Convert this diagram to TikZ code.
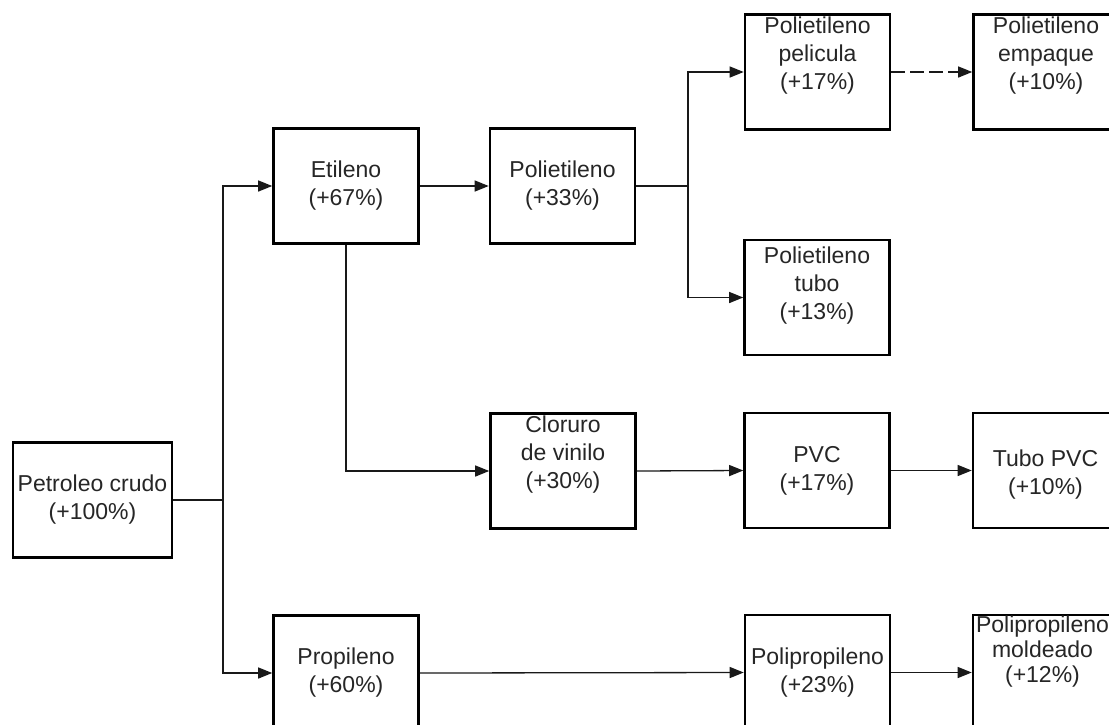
\documentclass[tikz,border=0pt]{standalone}
\usepackage{fontspec}
\setmainfont{Liberation Sans}
\usetikzlibrary{arrows.meta}

\tikzset{
  box/.style={draw=black, line width=2.6pt, fill=white, minimum width=145pt,
              minimum height=115pt, inner sep=0pt},
  txt/.style={align=center, text=black!85, inner sep=0pt,
              font=\fontsize{23}{28}\selectfont},
  wire/.style={line width=1.3pt, draw=black!90},
  arr/.style={wire, -{Triangle[length=14pt,width=11pt]}},
  dasharr/.style={arr, dash pattern=on 14pt off 5pt}
}

\begin{document}
\begin{tikzpicture}[x=1pt, y=-1pt]
  \useasboundingbox (0,0) rectangle (1109,724);
  \clip (0,0) rectangle (1109,724);
  \fill[white] (0,0) rectangle (1109,724);

  % process boxes
  \node[box, minimum width=159pt] (pet) at (92.5,500) {};
  \node[box] (eti) at (346,186) {};
  \node[box] (pol) at (562.5,186) {};
  \node[box] (pel) at (817.5,72) {};
  \node[box] (emp) at (1046,72) {};
  \node[box] (tub) at (817,297.5) {};
  \node[box] (clo) at (563,471) {};
  \node[box] (pvc) at (817,470.5) {};
  \node[box] (tpv) at (1045.5,470.5) {};
  \node[box] (pro) at (346,673) {};
  \node[box] (ppr) at (817.5,672.5) {};
  \node[box] (ppm) at (1045.5,672.5) {};

  % labels (three-line labels sit in the upper part of their box)
  \node[txt] (pet-t) at (pet.center) {Petroleo crudo\\(+100\%)};
  \node[txt] (eti-t) at (eti.center) {Etileno\\(+67\%)};
  \node[txt] (pol-t) at (pol.center) {Polietileno\\(+33\%)};
  \node[txt] (pel-t) at ([yshift=16pt]pel.center) {Polietileno\\pelicula\\(+17\%)};
  \node[txt] (emp-t) at ([yshift=16pt]emp.center) {Polietileno\\empaque\\(+10\%)};
  \node[txt] (tub-t) at ([yshift=12pt]tub.center) {Polietileno\\tubo\\(+13\%)};
  \node[txt] (clo-t) at ([yshift=16pt]clo.center) {Cloruro\\de vinilo\\(+30\%)};
  \node[txt] (pvc-t) at (pvc.center) {PVC\\(+17\%)};
  \node[txt] (tpv-t) at ([yshift=-4pt]tpv.center) {Tubo PVC\\(+10\%)};
  \node[txt] (pro-t) at (pro.center) {Propileno\\(+60\%)};
  \node[txt] (ppr-t) at (ppr.center) {Polipropileno\\(+23\%)};
  \node[txt, font=\fontsize{23}{25}\selectfont] (ppm-t)
    at ([xshift=-3pt,yshift=21pt]ppm.center) {Polipropileno\\moldeado\\(+12\%)};

  % branching points
  \coordinate (trunk) at (223,500);
  \coordinate (fork) at (688,186);

  % connectors
  \draw[wire] (pet.east) -- (trunk);
  \draw[arr] (trunk) |- (eti.west);
  \draw[arr] (trunk) |- (pro.west);
  \draw[arr] (eti.east) -- (pol.west);
  \draw[arr] (eti.south) |- (clo.west);
  \draw[wire] (pol.east) -- (fork);
  \draw[arr] (fork) |- (pel.west);
  \draw[arr] (fork) |- (tub.west);
  \draw[dasharr] (pel.east) -- (emp.west);
  \draw[arr] (clo.east) -- (pvc.west);
  \draw[arr] (pvc.east) -- (tpv.west);
  \draw[arr] (pro.east) -- (ppr.west);
  \draw[arr] (ppr.east) -- (ppm.west);
\end{tikzpicture}
\end{document}
